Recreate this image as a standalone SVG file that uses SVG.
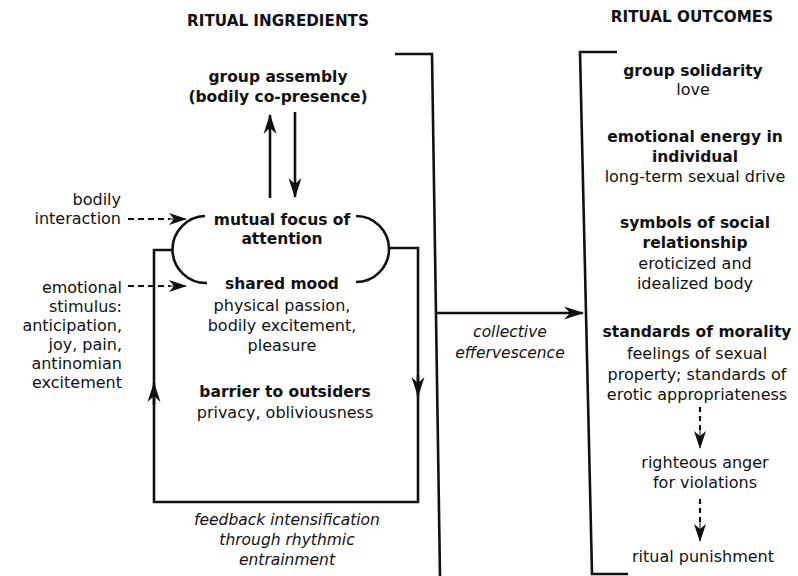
<svg xmlns="http://www.w3.org/2000/svg" width="798" height="576" viewBox="0 0 798 576">
<defs>
<style>
text{font-family:"DejaVu Sans","Open Sans",sans-serif;font-size:16px;fill:#111;text-anchor:middle}
.b{font-weight:bold;font-size:15.5px}
.h{font-weight:bold;font-size:15.2px}
.i{font-style:italic;font-size:15.5px}
.r{text-anchor:end}
.ln{fill:none;stroke:#111;stroke-width:2.6}
.ds{fill:none;stroke:#111;stroke-width:2.2;stroke-dasharray:6 4}
.vd{fill:none;stroke:#111;stroke-width:2.2;stroke-dasharray:5 4}
</style>
<marker id="ah" viewBox="-20 -8 22 16" refX="0" refY="0" markerWidth="22" markerHeight="16" markerUnits="userSpaceOnUse" orient="auto">
<path d="M1,0 L-19,-6.5 L-13,0 L-19,6.5 Z" fill="#111"/>
</marker>
<marker id="as" viewBox="-20 -8 22 16" refX="0" refY="0" markerWidth="22" markerHeight="16" markerUnits="userSpaceOnUse" orient="auto">
<path d="M1,0 L-17,-6 L-12,0 L-17,6 Z" fill="#111"/>
</marker>
</defs>
<rect width="798" height="576" fill="#fff"/>

<g id="headers">
<text class="h" x="278" y="26">RITUAL INGREDIENTS</text>
<text class="h" x="692" y="22">RITUAL OUTCOMES</text>
</g>

<g id="connectors">
<path class="ln" d="M395,54 H432 L440,576"/>
<path class="ln" d="M617,52 H580 L592,574 H628"/>
<line class="ln" x1="270" y1="198" x2="270" y2="115" marker-end="url(#ah)"/>
<line class="ln" x1="295" y1="112" x2="295" y2="197" marker-end="url(#ah)"/>
<path class="ln" d="M205,216 A33,33 0 0 0 207,283"/>
<path class="ln" d="M356,216 A33,33 0 0 1 356,282"/>
<path class="ln" d="M173,250 H154 V502 H418 V248 H390"/>
<line class="ln" x1="154" y1="405" x2="154" y2="383" marker-end="url(#ah)"/>
<line class="ln" x1="418" y1="375" x2="418" y2="396" marker-end="url(#ah)"/>
<line class="ds" x1="128" y1="219" x2="170" y2="219"/>
<line class="ln" x1="170" y1="219" x2="186" y2="219" marker-end="url(#as)" style="stroke-width:1"/>
<line class="ds" x1="128" y1="286" x2="170" y2="286"/>
<line class="ln" x1="170" y1="286" x2="186" y2="286" marker-end="url(#as)" style="stroke-width:1"/>
<line class="ln" x1="437" y1="313" x2="583" y2="313" marker-end="url(#ah)"/>
<line class="vd" x1="700" y1="407" x2="700" y2="432"/>
<line class="ln" x1="700" y1="430" x2="700" y2="448" marker-end="url(#as)" style="stroke-width:1"/>
<line class="vd" x1="700" y1="499" x2="700" y2="524"/>
<line class="ln" x1="700" y1="522" x2="700" y2="541" marker-end="url(#as)" style="stroke-width:1"/>
</g>

<g id="group-assembly">
<text class="b" x="278" y="82">group assembly</text>
<text class="b" x="278" y="102">(bodily co-presence)</text>
</g>

<g id="mutual-focus">
<text class="b" x="282" y="225">mutual focus of</text>
<text class="b" x="282" y="244">attention</text>
</g>

<g id="shared-mood">
<text class="b" x="282" y="289">shared mood</text>
<text x="282" y="311">physical passion,</text>
<text x="282" y="331">bodily excitement,</text>
<text x="282" y="351">pleasure</text>
</g>

<g id="barrier">
<text class="b" x="285" y="397">barrier to outsiders</text>
<text x="285" y="418">privacy, obliviousness</text>
</g>

<g id="feedback">
<text class="i" x="287" y="525">feedback intensification</text>
<text class="i" x="287" y="545">through rhythmic</text>
<text class="i" x="287" y="565">entrainment</text>
</g>

<g id="bodily-interaction">
<text class="r" x="121" y="205">bodily</text>
<text class="r" x="121" y="224">interaction</text>
</g>

<g id="emotional-stimulus">
<text class="r" x="122" y="293">emotional</text>
<text class="r" x="122" y="312">stimulus:</text>
<text class="r" x="122" y="331">anticipation,</text>
<text class="r" x="122" y="350">joy, pain,</text>
<text class="r" x="122" y="369">antinomian</text>
<text class="r" x="122" y="388">excitement</text>
</g>

<g id="collective-effervescence">
<text class="i" x="510" y="337">collective</text>
<text class="i" x="510" y="358">effervescence</text>
</g>

<g id="group-solidarity">
<text class="b" x="693" y="76">group solidarity</text>
<text x="693" y="95">love</text>
</g>

<g id="emotional-energy">
<text class="b" x="695" y="142">emotional energy in</text>
<text class="b" x="695" y="162">individual</text>
<text x="695" y="182">long-term sexual drive</text>
</g>

<g id="symbols">
<text class="b" x="695" y="228">symbols of social</text>
<text class="b" x="695" y="248">relationship</text>
<text x="695" y="269">eroticized and</text>
<text x="695" y="289">idealized body</text>
</g>

<g id="morality">
<text class="b" x="697" y="337">standards of morality</text>
<text x="697" y="359">feelings of sexual</text>
<text x="697" y="380">property; standards of</text>
<text x="697" y="400">erotic appropriateness</text>
</g>

<g id="righteous-anger">
<text x="705" y="468">righteous anger</text>
<text x="705" y="488">for violations</text>
</g>

<g id="ritual-punishment">
<text x="703" y="562">ritual punishment</text>
</g>
</svg>
